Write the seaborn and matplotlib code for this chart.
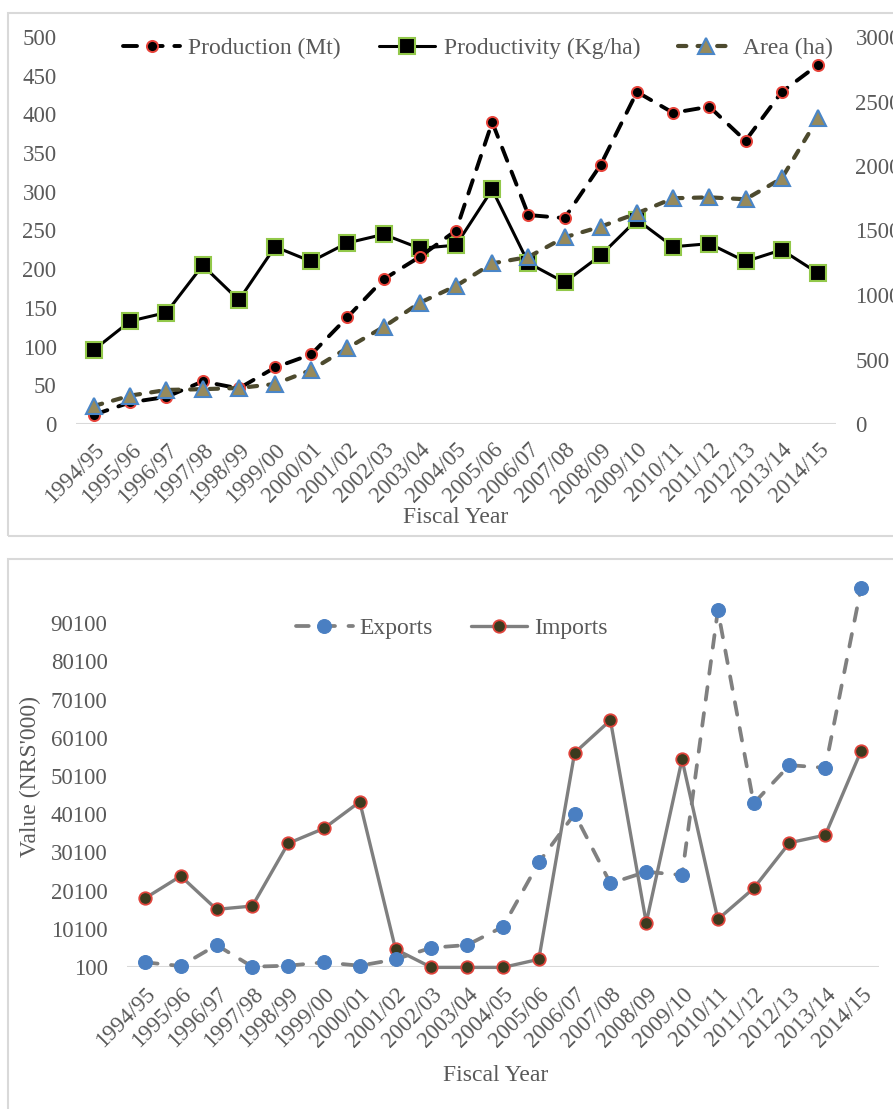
import matplotlib
matplotlib.use("Agg")
import matplotlib.pyplot as plt
from matplotlib.patches import Rectangle
import seaborn as sns
import pandas as pd

# Anos fiscais
years = ["1994/95", "1995/96", "1996/97", "1997/98", "1998/99", "1999/00", "2000/01",
         "2001/02", "2002/03", "2003/04", "2004/05", "2005/06", "2006/07", "2007/08",
         "2008/09", "2009/10", "2010/11", "2011/12", "2012/13", "2013/14", "2014/15"]

# Grafico de cima
production = [12, 28, 35, 55, 46, 73, 90, 138, 187, 216, 250, 390, 270, 266, 335,
              429, 402, 410, 366, 429, 464]
productivity = [96, 133, 144, 205, 160, 229, 210, 234, 245, 227, 231, 303, 208, 183,
                218, 264, 229, 233, 210, 225, 195]
area = [140, 220, 264, 270, 279, 310, 419, 589, 752, 940, 1070, 1245, 1295, 1447,
        1530, 1633, 1750, 1757, 1742, 1904, 2370]

# Grafico de baixo
exports = [1330, 360, 5850, 180, 440, 1330, 440, 2110, 5150, 5850, 10640, 27490,
           40200, 22000, 25030, 24170, 93490, 42920, 52940, 52240, 99430]
imports = [18070, 23900, 15190, 16060, 32460, 36380, 43340, 4730, 0, 0, 0, 2110,
           56160, 64700, 11700, 54440, 12580, 20690, 32620, 34630, 56680]

top_ticks = [0, 50, 100, 150, 200, 250, 300, 350, 400, 450, 500]
right_ticks = [0, 500, 1000, 1500, 2000, 2500, 3000]
bottom_ticks = [100, 10100, 20100, 30100, 40100, 50100, 60100, 70100, 80100, 90100]

df = pd.DataFrame({"i": range(len(years)), "production": production,
                   "productivity": productivity, "area": area,
                   "exports": exports, "imports": imports})

sns.set_theme(style="white")
plt.rcParams["font.family"] = ["Liberation Serif", "DejaVu Serif"]
txt = "#595959"
fs = 16.5   # ticks
fl = 17     # legenda e titulos dos eixos

fig = plt.figure(figsize=(8.93, 11.09), dpi=100)
W, H = 893, 1109

def px_axes(l, t, r, b):
    return fig.add_axes([l / W, 1 - b / H, (r - l) / W, (b - t) / H])

def dashed(line, pattern):
    line.set_linestyle((0, pattern))
    line.set_dash_capstyle("round")

# molduras cinzas
fig.patches.append(Rectangle((8 / W, 1 - 536 / H), 900 / W, 523 / H, transform=fig.transFigure,
                             fill=False, edgecolor="#d9d9d9", lw=1.5))
fig.patches.append(Rectangle((8 / W, 1 - 1120 / H), 900 / W, 561 / H, transform=fig.transFigure,
                             fill=False, edgecolor="#d9d9d9", lw=1.5))

# ---- grafico de producao ----
ax = px_axes(76, 37, 836, 424)
ax2 = ax.twinx()
sns.lineplot(data=df, x="i", y="productivity", ax=ax, color="black", lw=2.2,
             marker="s", markersize=11, markerfacecolor="black", markeredgecolor="#92c84a",
             markeredgewidth=1.5, label="Productivity (Kg/ha)", legend=False, zorder=3)
sns.lineplot(data=df, x="i", y="production", ax=ax, color="black", lw=2.8,
             marker="o", markersize=8, markerfacecolor="black", markeredgecolor="#e8433a",
             markeredgewidth=1.4, label="Production (Mt)", legend=False, zorder=4)
dashed(ax.lines[-1], (3.6, 3.0))
sns.lineplot(data=df, x="i", y="area", ax=ax2, color="#4d4a2e", lw=3.0,
             marker="^", markersize=12, markerfacecolor="#968a5c", markeredgecolor="#4a86c8",
             markeredgewidth=1.5, label="Area (ha)", legend=False, zorder=5)
dashed(ax2.lines[-1], (2.0, 2.7))

for a in (ax, ax2):
    a.set_xlim(-0.5, len(years) - 0.5)
    for s in a.spines.values():
        s.set_visible(False)
ax.set_ylim(0, 500)
ax2.set_ylim(0, 3000)
ax.axhline(0, color="#d9d9d9", lw=1.5, zorder=1)
ax.set_yticks(top_ticks)
ax.set_yticklabels([str(v) for v in top_ticks])
ax2.set_yticks(right_ticks)
ax2.set_yticklabels([str(v) for v in right_ticks])
ax.set_xticks(range(len(years)))
ax.set_xticklabels(years, rotation=45, ha="right", rotation_mode="anchor")
ax.tick_params(axis="x", length=0, labelsize=fs, colors=txt, pad=11)
ax.tick_params(axis="y", length=0, labelsize=fs, colors=txt, pad=14)
ax2.tick_params(axis="y", length=0, labelsize=fs, colors=txt, pad=14)
ax.set_xlabel("Fiscal Year", fontsize=fl, color=txt)
ax.xaxis.set_label_coords(0.5, (424 - 507) / 387)
ax.set_ylabel("")
ax2.set_ylabel("")

h1, l1 = ax.get_legend_handles_labels()
h2, l2 = ax2.get_legend_handles_labels()
handles = [h1[1], h1[0], h2[0]]
labels = [l1[1], l1[0], l2[0]]
ax2.legend(handles, labels, loc="center", bbox_to_anchor=((478 - 76) / 760, 1 - 11 / 387), ncol=3,
           frameon=False, fontsize=fl, handlelength=2.4, columnspacing=1.6,
           handletextpad=0.35, labelcolor=txt, borderpad=0)

# ---- grafico de comercio ----
bx = px_axes(127, 585, 879, 967)
sns.lineplot(data=df, x="i", y="imports", ax=bx, color="#7f7f7f", lw=2.4,
             marker="o", markersize=9, markerfacecolor="#3b3a1e", markeredgecolor="#e0443c",
             markeredgewidth=1.3, label="Imports", legend=False, zorder=3, clip_on=False)
sns.lineplot(data=df, x="i", y="exports", ax=bx, color="#808080", lw=2.7,
             marker="o", markersize=10, markerfacecolor="#4a7fc2", markeredgecolor="#4a7fc2",
             label="Exports", legend=False, zorder=4, clip_on=False)
dashed(bx.lines[-1], (3.4, 3.6))
bx.set_xlim(-0.5, len(years) - 0.5)
bx.set_ylim(100, 100100)
for s in bx.spines.values():
    s.set_visible(False)
bx.axhline(100, color="#d9d9d9", lw=1.5, zorder=1)
bx.set_yticks(bottom_ticks)
bx.set_yticklabels([str(v) for v in bottom_ticks])
bx.set_xticks(range(len(years)))
bx.set_xticklabels(years, rotation=45, ha="right", rotation_mode="anchor")
bx.tick_params(axis="x", length=0, labelsize=fs, colors=txt, pad=12)
bx.tick_params(axis="y", length=0, labelsize=fs, colors=txt, pad=14)
bx.set_xlabel("Fiscal Year", fontsize=fl, color=txt)
bx.xaxis.set_label_coords((496 - 127) / 752, (967 - 1065) / 382)
bx.set_ylabel("Value (NRS'000)", fontsize=fl, color=txt)
bx.yaxis.set_label_coords((41 - 127) / 752, 0.5)

hb, lb = bx.get_legend_handles_labels()
bx.legend([hb[1], hb[0]], [lb[1], lb[0]], loc="center",
          bbox_to_anchor=((452 - 127) / 752, (967 - 628) / 382), ncol=2,
          frameon=False, fontsize=fl, handlelength=2.4, columnspacing=1.6,
          handletextpad=0.3, labelcolor=txt, borderpad=0)

fig.savefig("out.png", dpi=100)
